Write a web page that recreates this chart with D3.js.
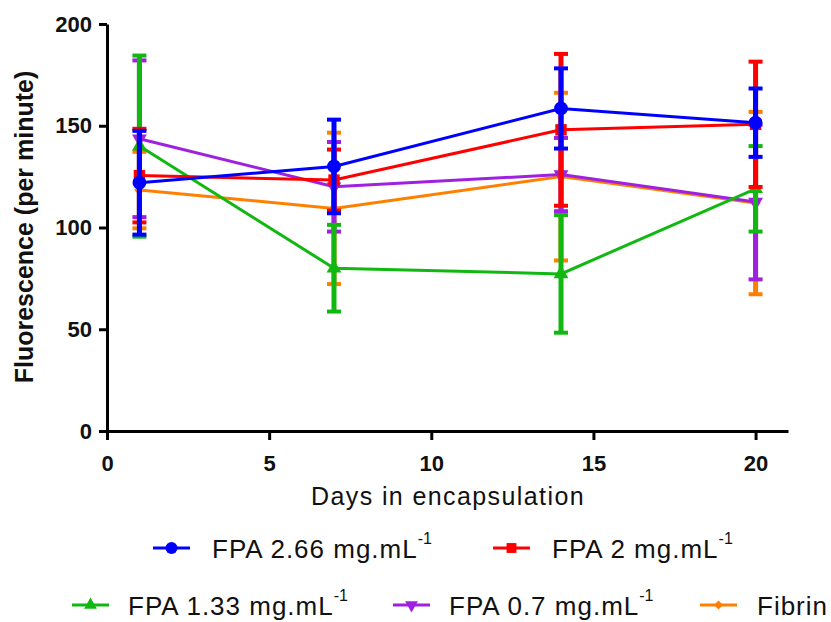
<!DOCTYPE html>
<html>
<head>
<meta charset="utf-8">
<script src="https://cdn.jsdelivr.net/npm/d3@7"></script>
<style>
  body { margin: 0; background: #fff; }
  svg { display: block; font-family: "Liberation Sans", Arial, sans-serif; }
</style>
</head>
<body>
<svg id="chart" width="831" height="622"></svg>
<script>
// 資料：各組在不同天數的平均值與標準差
const days = [1, 7, 14, 20];
const seriesNames = ['FPA 2.66 mg.mL', 'FPA 2 mg.mL', 'FPA 1.33 mg.mL', 'FPA 0.7 mg.mL', 'Fibrin'];
const fpa266Mean = [122, 130, 158.5, 151.5];
const fpa266Sd = [25.5, 23, 19.7, 16.8];
const fpa2Mean = [125.5, 123.3, 148, 150.7];
const fpa2Sd = [23, 15, 37.3, 30.8];
const fpa133Mean = [140, 80, 77.2, 119];
const fpa133Sd = [44.5, 21.3, 28.9, 21];
const fpa07Mean = [143.6, 120, 126, 112.5];
const fpa07Sd = [38.5, 22, 18, 38];
const fibrinMean = [118.4, 109.4, 125, 112];
const fibrinSd = [18.8, 37.2, 41.2, 44.8];
const xTicks = [0, 5, 10, 15, 20];
const yTicks = [0, 50, 100, 150, 200];

const colors = ['#0000ff', '#ff0000', '#11b811', '#a020e0', '#ff8000'];
const symbols = [d3.symbolCircle, d3.symbolSquare, d3.symbolTriangle, d3.symbolTriangle, d3.symbolDiamond2];
const symbolSizes = [150, 130, 95, 95, 70];
const symbolRotate = [0, 0, 0, 180, 0];
const superscripts = ['-1', '-1', '-1', '-1', ''];

const means = [fpa266Mean, fpa2Mean, fpa133Mean, fpa07Mean, fibrinMean];
const sds = [fpa266Sd, fpa2Sd, fpa133Sd, fpa07Sd, fibrinSd];

const svg = d3.select('#chart');

const x = d3.scaleLinear().domain([0, 21]).range([107, 788]);
const y = d3.scaleLinear().domain([0, 200]).range([431, 24]);

// 座標軸
const xAxis = svg.append('g')
  .attr('transform', `translate(0, ${y(0)})`)
  .call(d3.axisBottom(x).tickValues(xTicks).tickSize(9).tickSizeOuter(0).tickPadding(15));

const yAxis = svg.append('g')
  .attr('transform', `translate(${x(0)}, 0)`)
  .call(d3.axisLeft(y).tickValues(yTicks).tickSize(8).tickSizeOuter(0).tickPadding(7));

[xAxis, yAxis].forEach((axis) => {
  axis.select('.domain').attr('stroke', '#000').attr('stroke-width', 3);
  axis.selectAll('.tick line').attr('stroke', '#000').attr('stroke-width', 3);
  axis.selectAll('.tick text')
    .attr('fill', '#111')
    .style('font-size', '22px')
    .style('font-weight', 'bold')
    .style('font-family', '"Liberation Sans", Arial, sans-serif');
});

// 軸標題
svg.append('text')
  .attr('x', 448)
  .attr('y', 505)
  .attr('text-anchor', 'middle')
  .attr('fill', '#111')
  .style('font-size', '25px')
  .style('letter-spacing', '1.4px')
  .text('Days in encapsulation');

svg.append('text')
  .attr('transform', 'translate(33, 227) rotate(-90)')
  .attr('text-anchor', 'middle')
  .attr('fill', '#111')
  .style('font-size', '25px')
  .style('font-weight', 'bold')
  .text('Fluorescence (per minute)');

// 資料線、誤差線、標記（由最後一組畫起，藍色在最上層）
const line = d3.line()
  .x((d) => x(d.day))
  .y((d) => y(d.mean));

for (let s = seriesNames.length - 1; s >= 0; s--) {
  const pts = days.map((day, i) => ({ day: day, mean: means[s][i], sd: sds[s][i] }));
  const g = svg.append('g').attr('class', 'series');

  g.append('path')
    .datum(pts)
    .attr('d', line)
    .attr('fill', 'none')
    .attr('stroke', colors[s])
    .attr('stroke-width', 3);

  g.selectAll('line.err')
    .data(pts)
    .join('line')
    .attr('class', 'err')
    .attr('x1', (d) => x(d.day))
    .attr('x2', (d) => x(d.day))
    .attr('y1', (d) => y(d.mean + d.sd))
    .attr('y2', (d) => y(d.mean - d.sd))
    .attr('stroke', colors[s])
    .attr('stroke-width', 5);

  ['top', 'bottom'].forEach((side) => {
    g.selectAll(`line.cap-${side}`)
      .data(pts)
      .join('line')
      .attr('class', `cap-${side}`)
      .attr('x1', (d) => x(d.day) - 7)
      .attr('x2', (d) => x(d.day) + 7)
      .attr('y1', (d) => y(side === 'top' ? d.mean + d.sd : d.mean - d.sd))
      .attr('y2', (d) => y(side === 'top' ? d.mean + d.sd : d.mean - d.sd))
      .attr('stroke', colors[s])
      .attr('stroke-width', 4);
  });

  g.selectAll('path.marker')
    .data(pts)
    .join('path')
    .attr('class', 'marker')
    .attr('d', d3.symbol().type(symbols[s]).size(symbolSizes[s]))
    .attr('transform', (d) => `translate(${x(d.day)}, ${y(d.mean)}) rotate(${symbolRotate[s]})`)
    .attr('fill', colors[s]);
}

// 圖例
const legendX = [153, 493, 72, 393, 700];
const legendY = [548, 548, 605, 605, 605];

seriesNames.forEach((name, s) => {
  const lg = svg.append('g').attr('transform', `translate(${legendX[s]}, ${legendY[s]})`);
  lg.append('line')
    .attr('x1', 0).attr('x2', 37)
    .attr('stroke', colors[s])
    .attr('stroke-width', 3);
  lg.append('path')
    .attr('d', d3.symbol().type(symbols[s]).size(symbolSizes[s] * 0.75))
    .attr('transform', `translate(18.5, 0) rotate(${symbolRotate[s]})`)
    .attr('fill', colors[s]);
  const t = lg.append('text')
    .attr('x', s === 4 ? 57 : (s < 2 ? 59 : 56))
    .attr('y', 10)
    .attr('fill', '#111')
    .style('font-size', '26px')
    .style('letter-spacing', '1px')
    .text(name);
  if (superscripts[s]) {
    t.append('tspan')
      .attr('dy', -14)
      .style('font-size', '16px')
      .style('letter-spacing', '0px')
      .text(superscripts[s]);
  }
});
</script>
</body>
</html>
